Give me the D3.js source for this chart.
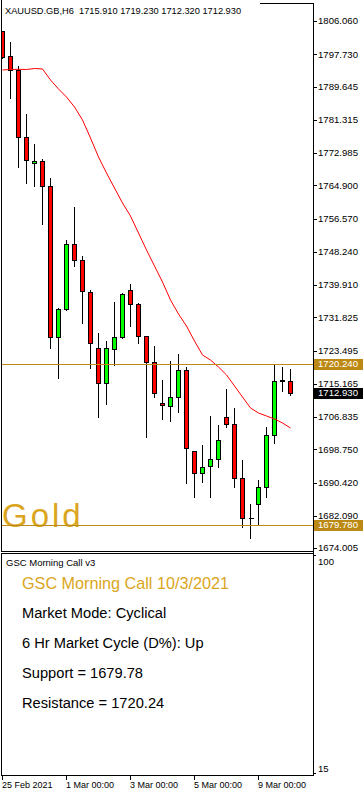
<!DOCTYPE html>
<html>
<head>
<meta charset="utf-8">
<script src="https://cdn.jsdelivr.net/npm/d3@7"></script>
<style>
body { margin: 0; background: #fff; }
svg { display: block; font-family: "Liberation Sans", Arial, sans-serif; }
</style>
</head>
<body>
<svg id="chart" width="364" height="792"></svg>
<script>
// XAUUSD H6 bars
var bars = [
	"25 Feb 00:00", "25 Feb 06:00", "25 Feb 12:00", "25 Feb 18:00",
	"26 Feb 00:00", "26 Feb 06:00", "26 Feb 12:00", "26 Feb 18:00",
	"1 Mar 00:00", "1 Mar 06:00", "1 Mar 12:00", "1 Mar 18:00",
	"2 Mar 00:00", "2 Mar 06:00", "2 Mar 12:00", "2 Mar 18:00",
	"3 Mar 00:00", "3 Mar 06:00", "3 Mar 12:00", "3 Mar 18:00",
	"4 Mar 00:00", "4 Mar 06:00", "4 Mar 12:00", "4 Mar 18:00",
	"5 Mar 00:00", "5 Mar 06:00", "5 Mar 12:00", "5 Mar 18:00",
	"8 Mar 00:00", "8 Mar 06:00", "8 Mar 12:00", "8 Mar 18:00",
	"9 Mar 00:00", "9 Mar 06:00", "9 Mar 12:00", "9 Mar 18:00",
	"10 Mar 00:00"
];
var opens = [1803.58, 1797.31, 1793.81, 1776.94, 1770.42, 1770.92, 1764.73, 1726.81, 1733.83, 1750.12,
	1746.11, 1738.09, 1724.06, 1715.28, 1723.81, 1726.81, 1738.59, 1735.08, 1727.06, 1720.55,
	1710.27, 1709.67, 1711.77, 1718.62, 1698.39, 1692.73, 1694.56, 1696.24, 1706.76, 1705.00,
	1691.47, 1681.45, 1684.96, 1689.22, 1702.30, 1715.86, 1715.91];
var highs = [1803.80, 1801.07, 1795.06, 1783.10, 1775.43, 1771.83, 1767.06, 1734.33, 1751.37, 1759.72,
	1747.44, 1738.92, 1728.07, 1726.14, 1735.99, 1738.09, 1740.42, 1735.58, 1727.20, 1724.88,
	1716.36, 1721.12, 1722.95, 1719.62, 1698.50, 1700.07, 1707.34, 1705.08, 1714.18, 1709.42,
	1696.31, 1685.36, 1691.30, 1704.66, 1720.24, 1719.62, 1719.23];
var lows = [1796.90, 1786.86, 1769.57, 1765.41, 1764.81, 1755.13, 1724.21, 1716.69, 1733.70, 1744.76,
	1730.47, 1719.19, 1706.91, 1710.17, 1719.95, 1726.56, 1729.72, 1725.31, 1701.75, 1711.77,
	1706.26, 1705.91, 1708.17, 1690.22, 1686.86, 1690.62, 1686.86, 1694.23, 1704.41, 1689.37,
	1679.34, 1676.44, 1679.77, 1686.86, 1700.25, 1713.35, 1712.32];
var closes = [1797.06, 1793.81, 1776.94, 1771.25, 1770.92, 1764.73, 1726.81, 1733.83, 1750.12, 1746.11,
	1738.42, 1725.31, 1715.28, 1724.06, 1726.81, 1737.59, 1735.08, 1727.06, 1720.55, 1712.78,
	1709.77, 1711.77, 1718.62, 1698.99, 1692.73, 1694.38, 1696.24, 1701.00, 1705.00, 1691.47,
	1681.45, 1681.45, 1689.22, 1702.33, 1715.86, 1716.10, 1712.93];
// moving average (red line)
var maValues = [1793.81, 1793.93, 1793.98, 1793.93, 1794.18, 1794.06, 1791.30, 1789.05, 1787.04, 1784.53,
	1781.28, 1776.76, 1772.00, 1767.99, 1764.23, 1760.47, 1757.21, 1752.95, 1748.69, 1744.68,
	1740.67, 1736.16, 1732.65, 1729.64, 1725.88, 1722.37, 1721.12, 1719.37, 1717.37, 1714.61,
	1711.85, 1709.09, 1707.84, 1707.09, 1706.34, 1705.34, 1704.08];

var priceTicks = [1806.060, 1797.730, 1789.645, 1781.315, 1772.985, 1764.900, 1756.570, 1748.240,
	1739.910, 1731.825, 1723.495, 1715.165, 1706.835, 1698.750, 1690.420, 1682.090, 1674.005];
var timeTickBars = ["25 Feb 00:00", "1 Mar 00:00", "3 Mar 00:00", "5 Mar 00:00", "9 Mar 00:00"];
var timeTickLabels = ["25 Feb 2021", "1 Mar 00:00", "3 Mar 00:00", "5 Mar 00:00", "9 Mar 00:00"];
var subTicks = [100, 15];

var support = 1679.78;
var resistance = 1720.24;
var header = "XAUUSD.GB,H6  1715.910 1719.230 1712.320 1712.930";
var infoTitle = "GSC Morning Call 10/3/2021";
var infoLines = ["Market Mode: Cyclical", "6 Hr Market Cycle (D%): Up", "Support = 1679.78", "Resistance = 1720.24"];

var gold = "#DAA520";
var lineGold = "#BC8A14";

var svg = d3.select("#chart");

var x = d3.scalePoint().domain(bars).range([2.5, 290.5]);
var y = d3.scaleLinear().domain([1674.005, 1806.06]).range([548, 21.1]);
var ySub = d3.scaleLinear().domain([15, 100]).range([773, 555]);

function py(v) { return Math.round(y(v)) + 0.5; }

svg.append("clipPath").attr("id", "main-clip")
	.append("rect").attr("x", 2).attr("y", 4).attr("width", 311).attr("height", 547);

var main = svg.append("g").attr("clip-path", "url(#main-clip)");

// big "Gold" label
main.append("text")
	.attr("x", 2).attr("y", 527)
	.attr("font-size", 33).attr("letter-spacing", 3)
	.attr("fill", gold)
	.text("Gold");

// candles
var idx = d3.range(bars.length);
var candles = main.append("g").attr("shape-rendering", "crispEdges");

candles.selectAll("line.wick").data(idx).enter().append("line")
	.attr("class", "wick")
	.attr("x1", function(i) { return x(bars[i]); })
	.attr("x2", function(i) { return x(bars[i]); })
	.attr("y1", function(i) { return py(highs[i]); })
	.attr("y2", function(i) { return py(lows[i]); })
	.attr("stroke", "#000");

candles.selectAll("rect.body").data(idx).enter().append("rect")
	.attr("class", "body")
	.attr("x", function(i) { return x(bars[i]) - 2; })
	.attr("y", function(i) { return py(Math.max(opens[i], closes[i])); })
	.attr("width", 4)
	.attr("height", function(i) { return py(Math.min(opens[i], closes[i])) - py(Math.max(opens[i], closes[i])); })
	.attr("fill", function(i) { return closes[i] >= opens[i] ? "#00FF00" : "#FF0000"; })
	.attr("stroke", "#000");

// dojis with no body
candles.selectAll("line.doji").data(idx.filter(function(i) { return py(opens[i]) === py(closes[i]); }))
	.enter().append("line")
	.attr("x1", function(i) { return x(bars[i]) - 2; })
	.attr("x2", function(i) { return x(bars[i]) + 3; })
	.attr("y1", function(i) { return py(closes[i]); })
	.attr("y2", function(i) { return py(closes[i]); })
	.attr("stroke", "#000");

// moving average
var maLine = d3.line()
	.x(function(d, i) { return x(bars[i]); })
	.y(function(d) { return y(d); });

main.append("path")
	.attr("d", maLine(maValues))
	.attr("fill", "none")
	.attr("stroke", "#FF0000")
	.attr("stroke-width", 1);

// support / resistance
main.selectAll("line.level").data([resistance, support]).enter().append("line")
	.attr("x1", 1).attr("x2", 313)
	.attr("y1", function(d) { return py(d); })
	.attr("y2", function(d) { return py(d); })
	.attr("stroke", lineGold)
	.attr("shape-rendering", "crispEdges");

// frames
var frames = svg.append("g").attr("stroke", "#000").attr("fill", "none").attr("shape-rendering", "crispEdges");
frames.append("line").attr("x1", 1.5).attr("x2", 1.5).attr("y1", 0).attr("y2", 551.5);
frames.append("line").attr("x1", 1.5).attr("x2", 313.5).attr("y1", 551.5).attr("y2", 551.5);
frames.append("line").attr("x1", 260).attr("x2", 313.5).attr("y1", 3.5).attr("y2", 3.5);
frames.append("line").attr("x1", 313.5).attr("x2", 313.5).attr("y1", 3.5).attr("y2", 775.5);
frames.append("rect").attr("x", 1.5).attr("y", 553.5).attr("width", 312).attr("height", 222);

// header
svg.append("text")
	.attr("x", 5).attr("y", 14)
	.attr("font-size", 9.25)
	.attr("xml:space", "preserve")
	.style("white-space", "pre")
	.text(header);

// price axis
var axisG = svg.append("g");
axisG.selectAll("line.ptick").data(priceTicks).enter().append("line")
	.attr("x1", 313).attr("x2", 317)
	.attr("y1", function(d) { return py(d); })
	.attr("y2", function(d) { return py(d); })
	.attr("stroke", "#000")
	.attr("shape-rendering", "crispEdges");

axisG.selectAll("text.plabel").data(priceTicks).enter().append("text")
	.attr("x", 318)
	.attr("y", function(d) { return y(d); })
	.attr("dy", "0.35em")
	.attr("font-size", 9.6)
	.text(function(d) { return d.toFixed(3); });

// price tags
var tags = [
	{ v: resistance, fill: lineGold },
	{ v: closes[closes.length - 1], fill: "#000" },
	{ v: support, fill: lineGold }
];
var tagG = axisG.selectAll("g.tag").data(tags).enter().append("g");
tagG.append("rect")
	.attr("x", 314).attr("width", 49)
	.attr("y", function(d) { return Math.round(y(d.v)) - 5; })
	.attr("height", 11)
	.attr("fill", function(d) { return d.fill; });
tagG.append("text")
	.attr("x", 318)
	.attr("y", function(d) { return y(d.v); })
	.attr("dy", "0.35em")
	.attr("font-size", 9.6)
	.attr("fill", "#fff")
	.text(function(d) { return d.v.toFixed(3); });

// sub window scale
axisG.selectAll("line.stick").data(subTicks).enter().append("line")
	.attr("x1", 313).attr("x2", 316)
	.attr("y1", function(d) { return Math.round(ySub(d)) + 0.5; })
	.attr("y2", function(d) { return Math.round(ySub(d)) + 0.5; })
	.attr("stroke", "#000")
	.attr("shape-rendering", "crispEdges");
axisG.selectAll("text.slabel").data(subTicks).enter().append("text")
	.attr("x", 318)
	.attr("y", function(d) { return ySub(d) + (d === 100 ? 10 : -1); })
	.attr("font-size", 9.6)
	.text(function(d) { return d; });

// time axis
var timeG = svg.append("g");
timeG.selectAll("line").data(timeTickBars).enter().append("line")
	.attr("x1", function(d) { return x(d); })
	.attr("x2", function(d) { return x(d); })
	.attr("y1", 776).attr("y2", 780)
	.attr("stroke", "#000")
	.attr("shape-rendering", "crispEdges");
timeG.selectAll("text").data(timeTickBars).enter().append("text")
	.attr("x", function(d) { return x(d) - 0.5; })
	.attr("y", 788)
	.attr("font-size", 9)
	.text(function(d, i) { return timeTickLabels[i]; });

// indicator window text
svg.append("text")
	.attr("x", 6).attr("y", 566)
	.attr("font-size", 9.5)
	.text("GSC Morning Call v3");

svg.append("text")
	.attr("x", 22).attr("y", 589)
	.attr("font-size", 16.2)
	.attr("fill", gold)
	.text(infoTitle);

svg.selectAll("text.info").data(infoLines).enter().append("text")
	.attr("x", 22)
	.attr("y", function(d, i) { return 618 + i * 30; })
	.attr("font-size", 14.67)
	.attr("fill", "#000")
	.text(function(d) { return d; });
</script>
</body>
</html>
